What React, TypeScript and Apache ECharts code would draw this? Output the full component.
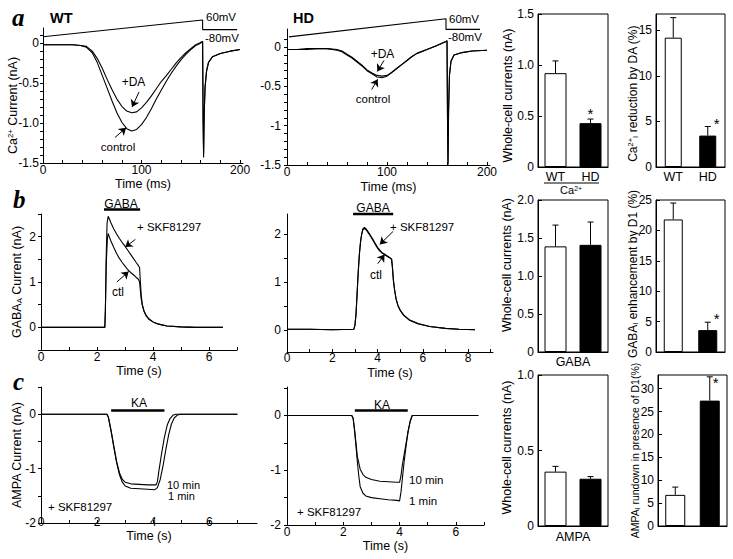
import React, { useEffect, useRef } from 'react';
import * as echarts from 'echarts';

const FONT = "'Liberation Sans', Arial, Helvetica, sans-serif";
const SERIF = "'Liberation Serif', 'Times New Roman', serif";

// ---------- Panel a: Ca2+ currents (time in ms, current in nA) ----------
const caTimeTicks = [0, 20, 40, 60, 80, 100, 120, 140, 160, 180, 200];
const caTimeLabels = [0, 100, 200];
const caCurrentTicks = [-1.5, -1.4, -1.3, -1.2, -1.1, -1, -0.9, -0.8, -0.7, -0.6, -0.5, -0.4, -0.3, -0.2, -0.1, 0, 0.1];
const caCurrentLabelValues = [-1.5, -1, -0.5, 0];
const wtCaCurrentLabels = ['-1.5', '-1.0', '-0.5', '0'];
const hdCaCurrentLabels = ['-1.5', '-1', '-0.5', '0'];

const wtCaControl = [
  [0, -0.02], [10, -0.02], [20, -0.02], [30, -0.02], [38, -0.03], [44, -0.05], [50, -0.12], [55, -0.24], [60, -0.4],
  [65, -0.56], [70, -0.72], [75, -0.87], [80, -0.99], [85, -1.07], [90, -1.1], [95, -1.08], [100, -1.02], [105, -0.93],
  [110, -0.82], [115, -0.7], [120, -0.59], [125, -0.48], [130, -0.38], [135, -0.29], [140, -0.21], [145, -0.14],
  [150, -0.08], [155, -0.03], [160, 0.0], [162, 0.02], [162.5, -1.0], [163, -1.43], [163.6, -0.9], [164.5, -0.55],
  [166, -0.35], [168, -0.24], [172, -0.17], [180, -0.13], [190, -0.1], [200, -0.08],
];
const wtCaDA = [
  [0, -0.02], [10, -0.02], [20, -0.02], [30, -0.02], [38, -0.03], [44, -0.04], [50, -0.1], [55, -0.19], [60, -0.31],
  [65, -0.45], [70, -0.58], [75, -0.7], [80, -0.79], [85, -0.85], [90, -0.87], [95, -0.86], [100, -0.81], [105, -0.74],
  [110, -0.66], [115, -0.57], [120, -0.48], [125, -0.41], [130, -0.33], [135, -0.25], [140, -0.18], [145, -0.12],
  [150, -0.07], [155, -0.02], [160, 0.01], [162, 0.02], [162.5, -0.9], [163, -1.38], [163.6, -0.88], [164.5, -0.55],
  [166, -0.35], [168, -0.24], [172, -0.17], [180, -0.13], [190, -0.1], [200, -0.08],
];
const wtRampProtocol = [[0, 0.08], [162, 0.29], [162, 0.17], [197, 0.17]];

const hdCaControl = [
  [0, -0.03], [10, -0.03], [20, -0.02], [30, -0.02], [40, -0.02], [50, -0.04], [55, -0.06], [60, -0.1], [65, -0.14],
  [70, -0.19], [75, -0.24], [80, -0.3], [85, -0.34], [90, -0.38], [95, -0.39], [100, -0.37], [105, -0.32], [110, -0.27],
  [115, -0.22], [120, -0.17], [125, -0.12], [130, -0.08], [140, -0.03], [150, 0.02], [155, 0.05], [159, 0.07],
  [160, 0.08], [160.5, -0.9], [161, -1.5], [161.6, -0.8], [162.5, -0.35], [164, -0.18], [167, -0.1], [175, -0.07],
  [185, -0.05], [200, -0.04],
];
const hdCaDA = [
  [0, -0.03], [10, -0.03], [20, -0.03], [30, -0.02], [40, -0.02], [50, -0.03], [55, -0.05], [60, -0.09], [65, -0.13],
  [70, -0.18], [75, -0.23], [80, -0.29], [85, -0.33], [90, -0.36], [95, -0.37], [100, -0.36], [105, -0.32], [110, -0.27],
  [115, -0.22], [120, -0.17], [125, -0.12], [130, -0.08], [140, -0.03], [150, 0.02], [155, 0.05], [159, 0.07],
  [160, 0.08], [160.5, -0.9], [161, -1.48], [161.6, -0.8], [162.5, -0.35], [164, -0.18], [167, -0.1], [175, -0.07],
  [185, -0.05], [200, -0.04],
];
const hdRampProtocol = [[2, 0.13], [159, 0.36], [159, 0.225], [193, 0.225]];

// ---------- Panel b: GABA-A currents (time in s, current in nA) ----------
const gabaWtTimeTicks = [0, 1, 2, 3, 4, 5, 6, 7];
const gabaHdTimeTicks = [0, 1, 2, 3, 4, 5, 6, 7, 8, 9];
const gabaWtTimeLabels = [0, 2, 4, 6];
const gabaHdTimeLabels = [0, 2, 4, 6, 8];
const gabaWtCurrentTicks = [-0.5, 0, 0.5, 1, 1.5, 2, 2.5];
const gabaHdCurrentTicks = [0, 0.5, 1, 1.5, 2];
const gabaCurrentLabelValues = [0, 1, 2];
const gabaCurrentLabels = ['0', '1', '2'];

const wtGabaSKF = [
  [0, 0], [1, 0], [2, 0], [2.28, 0], [2.3, 0.4], [2.33, 1.6], [2.36, 2.3], [2.4, 2.45], [2.45, 2.38], [2.5, 2.3],
  [2.6, 2.17], [2.7, 2.06], [2.8, 1.96], [2.9, 1.87], [3.0, 1.79], [3.1, 1.7], [3.2, 1.61], [3.3, 1.52], [3.4, 1.43],
  [3.48, 1.36], [3.52, 1.32], [3.55, 1.0], [3.58, 0.7], [3.62, 0.5], [3.68, 0.36], [3.75, 0.27], [3.85, 0.19],
  [4.0, 0.12], [4.2, 0.07], [4.5, 0.03], [5.0, 0.01], [5.5, 0], [6.5, 0],
];
const wtGabaCtl = [
  [0, 0], [1, 0], [2, 0], [2.28, 0], [2.3, 0.4], [2.33, 1.4], [2.37, 1.95], [2.4, 2.07], [2.45, 1.98], [2.5, 1.9],
  [2.6, 1.76], [2.7, 1.63], [2.8, 1.52], [2.9, 1.43], [3.0, 1.35], [3.1, 1.27], [3.2, 1.21], [3.3, 1.16], [3.4, 1.1],
  [3.48, 1.06], [3.52, 1.0], [3.55, 0.8], [3.58, 0.62], [3.62, 0.48], [3.68, 0.35], [3.75, 0.26], [3.85, 0.18],
  [4.0, 0.12], [4.2, 0.07], [4.5, 0.03], [5.0, 0.01], [5.5, 0], [6.5, 0],
];
const wtGabaStimulus = [[2.25, 2.6], [3.54, 2.6]];

const hdGabaSKF = [
  [0, 0.02], [1, 0.02], [2, 0.01], [2.95, 0.02], [3.0, 0.1], [3.05, 0.35], [3.1, 0.8], [3.15, 1.25], [3.2, 1.6],
  [3.25, 1.85], [3.3, 2.0], [3.35, 2.1], [3.42, 2.13], [3.5, 2.1], [3.6, 2.03], [3.7, 1.96], [3.8, 1.88], [3.9, 1.8],
  [4.0, 1.72], [4.1, 1.66], [4.2, 1.61], [4.3, 1.58], [4.4, 1.55], [4.5, 1.52], [4.62, 1.48], [4.66, 1.3], [4.7, 1.05],
  [4.75, 0.85], [4.82, 0.65], [4.9, 0.52], [5.0, 0.42], [5.15, 0.32], [5.4, 0.22], [5.8, 0.14], [6.3, 0.08],
  [7.0, 0.04], [7.6, 0.02], [8.3, 0.01],
];
const hdGabaCtl = [
  [0, 0.02], [1, 0.02], [2, 0.01], [2.95, 0.02], [3.0, 0.1], [3.05, 0.33], [3.1, 0.78], [3.15, 1.22], [3.2, 1.58],
  [3.25, 1.83], [3.3, 1.99], [3.35, 2.08], [3.42, 2.11], [3.5, 2.08], [3.6, 2.01], [3.7, 1.94], [3.8, 1.86],
  [3.9, 1.78], [4.0, 1.7], [4.1, 1.64], [4.2, 1.6], [4.3, 1.57], [4.4, 1.54], [4.5, 1.51], [4.62, 1.47], [4.66, 1.28],
  [4.7, 1.03], [4.75, 0.84], [4.82, 0.64], [4.9, 0.51], [5.0, 0.41], [5.15, 0.31], [5.4, 0.21], [5.8, 0.13],
  [6.3, 0.08], [7.0, 0.04], [7.6, 0.02], [8.3, 0.01],
];
const hdGabaStimulus = [[2.92, 2.41], [4.69, 2.41]];

// ---------- Panel c: AMPA currents (time in s, current in nA) ----------
const ampaTimeTicks = [0, 1, 2, 3, 4, 5, 6, 7];
const ampaTimeLabels = [0, 2, 4, 6];
const ampaCurrentTicks = [-2, -1.5, -1, -0.5, 0, 0.5];
const ampaCurrentLabelValues = [-2, -1, 0];
const ampaCurrentLabels = ['-2', '-1', '0'];

const wtAmpa10min = [
  [0, 0], [1, 0], [2, 0], [2.35, 0], [2.4, -0.05], [2.5, -0.3], [2.6, -0.6], [2.7, -0.88], [2.8, -1.08], [2.9, -1.2],
  [3.0, -1.25], [3.2, -1.28], [3.5, -1.29], [3.8, -1.3], [4.1, -1.3], [4.15, -1.24], [4.2, -1.05], [4.3, -0.72],
  [4.4, -0.42], [4.5, -0.2], [4.6, -0.08], [4.7, -0.02], [4.8, 0], [6, 0], [7.0, 0],
];
const wtAmpa1min = [
  [0, 0], [1, 0], [2, 0], [2.35, 0], [2.4, -0.05], [2.5, -0.32], [2.6, -0.62], [2.7, -0.9], [2.8, -1.12],
  [2.9, -1.25], [3.0, -1.32], [3.2, -1.36], [3.5, -1.37], [3.8, -1.38], [4.05, -1.39], [4.15, -1.35], [4.25, -1.2],
  [4.35, -0.95], [4.45, -0.65], [4.55, -0.38], [4.65, -0.18], [4.75, -0.07], [4.85, -0.02], [4.95, 0], [6, 0], [7.0, 0],
];
const wtKaStimulus = [[2.5, 0.07], [4.4, 0.07]];

const hdAmpa10min = [
  [0, 0], [1, 0], [2, 0], [2.3, 0], [2.35, -0.05], [2.4, -0.25], [2.45, -0.5], [2.5, -0.75], [2.6, -0.98],
  [2.7, -1.08], [2.8, -1.13], [3.0, -1.17], [3.3, -1.2], [3.6, -1.21], [3.9, -1.22], [4.0, -1.22], [4.05, -1.1],
  [4.1, -0.9], [4.2, -0.6], [4.3, -0.3], [4.38, -0.1], [4.45, 0], [5.5, 0], [6.8, 0],
];
const hdAmpa1min = [
  [0, 0], [1, 0], [2, 0], [2.3, 0], [2.35, -0.05], [2.4, -0.28], [2.45, -0.55], [2.5, -0.85], [2.55, -1.1],
  [2.6, -1.3], [2.7, -1.42], [2.8, -1.47], [3.0, -1.5], [3.3, -1.52], [3.6, -1.54], [3.9, -1.55], [4.0, -1.56],
  [4.05, -1.4], [4.1, -1.15], [4.15, -0.9], [4.22, -0.6], [4.3, -0.3], [4.38, -0.1], [4.45, 0], [5.5, 0], [6.8, 0],
];
const hdKaStimulus = [[2.41, 0.09], [4.29, 0.09]];

// ---------- Bar charts (WT, HD) ----------
const genotypes = ['WT', 'HD'];
const caWholeCell = [0.92, 0.43];
const caWholeCellErr = [1.04, 0.47];
const caWholeCellSig = [0, 1];
const caReductionDA = [14.2, 3.45];
const caReductionDAErr = [16.4, 4.45];
const caReductionDASig = [0, 1];
const gabaWholeCell = [1.39, 1.41];
const gabaWholeCellErr = [1.67, 1.71];
const gabaWholeCellSig = [0, 0];
const gabaEnhanceD1 = [21.8, 3.6];
const gabaEnhanceD1Err = [24.5, 4.9];
const gabaEnhanceD1Sig = [0, 1];
const ampaWholeCell = [0.36, 0.313];
const ampaWholeCellErr = [0.395, 0.327];
const ampaWholeCellSig = [0, 0];
const ampaRundownD1 = [6.8, 27.4];
const ampaRundownD1Err = [8.5, 32.6];
const ampaRundownD1Sig = [0, 1];

const wholeCellTicksCa = [0, 0.5, 1, 1.5];
const wholeCellLabelsCa = ['0', '0.5', '1.0', '1.5'];
const wholeCellTicksGaba = [0, 0.5, 1, 1.5, 2];
const wholeCellLabelsGaba = ['0', '0.5', '1.0', '1.5', '2.0'];
const wholeCellTicksAmpa = [0, 0.5, 1];
const wholeCellLabelsAmpa = ['0', '0.5', '1.0'];
const reductionTicks = [0, 5, 10, 15];
const enhancementTicks = [0, 5, 10, 15, 20, 25];
const rundownTicks = [0, 5, 10, 15, 20, 25, 30];

// ---------- helpers ----------
const richStyles = (size: number) => ({
  n: { fontSize: size, fontFamily: FONT, color: '#000' },
  sup: { fontSize: size * 0.62, fontFamily: FONT, color: '#000', verticalAlign: 'top', lineHeight: size * 0.62 },
  sub: { fontSize: size * 0.62, fontFamily: FONT, color: '#000', verticalAlign: 'bottom', lineHeight: size * 0.62 },
});

const labelFor = (values: number[], texts: string[]) => (v: number) => {
  const i = values.findIndex((x) => Math.abs(x - v) < 1e-9);
  return i >= 0 ? texts[i] : '';
};

function xTraceAxis(gridIndex: number, max: number, ticks: number[], labels: number[], name: string, labelMargin: number, nameGap: number) {
  return {
    type: 'value', gridIndex, min: 0, max,
    axisLine: { show: true, onZero: false, lineStyle: { color: '#000', width: 1 } },
    axisTick: { show: true, inside: true, length: 3, customValues: ticks, lineStyle: { color: '#000', width: 1 } },
    axisLabel: { customValues: labels, color: '#000', fontSize: 12, fontFamily: FONT, margin: labelMargin, formatter: (v: number) => String(v) },
    splitLine: { show: false },
    name, nameLocation: 'middle', nameGap, nameMoveOverlap: false,
    nameTextStyle: { color: '#000', fontSize: 12.5, fontFamily: FONT },
  };
}

function yTraceAxis(gridIndex: number, min: number, max: number, ticks: number[], labelValues: number[], labelTexts: string[], name: string, nameGap: number, namePadding: number[], labelMargin: number) {
  return {
    type: 'value', gridIndex, min, max,
    axisLine: { show: true, onZero: false, lineStyle: { color: '#000', width: 1 } },
    axisTick: { show: true, inside: false, length: 3, customValues: ticks, lineStyle: { color: '#000', width: 1 } },
    axisLabel: { customValues: labelValues, color: '#000', fontSize: 12, fontFamily: FONT, margin: labelMargin, formatter: labelFor(labelValues, labelTexts) },
    splitLine: { show: false },
    name, nameLocation: 'middle', nameGap, nameMoveOverlap: false,
    nameTextStyle: { color: '#000', fontSize: 12.5, fontFamily: FONT, rich: richStyles(12.5), padding: namePadding },
  };
}

function xBarAxis(gridIndex: number, showLabels: boolean, name: string, nameGap: number) {
  return {
    type: 'category', gridIndex, data: genotypes,
    axisLine: { show: true, onZero: false, lineStyle: { color: '#000', width: 1 } },
    axisTick: { show: false },
    axisLabel: { show: showLabels, color: '#000', fontSize: 12.5, fontFamily: FONT, margin: 3 },
    splitLine: { show: false },
    name, nameLocation: 'middle', nameGap, nameMoveOverlap: false,
    nameTextStyle: { color: '#000', fontSize: 12.5, fontFamily: FONT },
  };
}

function yBarAxis(gridIndex: number, max: number, ticks: number[], labels: string[], name: string, nameGap: number, namePadding: number[], nameSize: number) {
  return {
    type: 'value', gridIndex, min: 0, max,
    axisLine: { show: true, onZero: false, lineStyle: { color: '#000', width: 1 } },
    axisTick: { show: true, inside: true, length: 4, customValues: ticks, lineStyle: { color: '#000', width: 1 } },
    axisLabel: { customValues: ticks, color: '#000', fontSize: 12, fontFamily: FONT, margin: 4, formatter: labelFor(ticks, labels) },
    splitLine: { show: false },
    name, nameLocation: 'middle', nameGap, nameMoveOverlap: false,
    nameTextStyle: { color: '#000', fontSize: nameSize, fontFamily: FONT, rich: richStyles(nameSize), padding: namePadding },
  };
}

const traceGrid = (left: number, top: number, width: number, height: number) => ({ left, top, width, height, containLabel: false, show: false });
const barGrid = (left: number, top: number, width: number, height: number) => ({ left, top, width, height, containLabel: false, show: true, borderColor: '#000', borderWidth: 1, backgroundColor: 'transparent' });

const arrowLines = (list: number[][][]) => ({
  silent: true, symbol: ['none', 'arrow'], symbolSize: 7, precision: 4,
  lineStyle: { color: '#000', width: 1, type: 'solid', opacity: 1 }, itemStyle: { color: '#000', opacity: 1 },
  label: { show: false }, emphasis: { disabled: true },
  data: list.map(([a, b]) => [{ coord: a }, { coord: b }]),
});

const trace = (idx: number, data: number[][], extra: any = {}) => ({
  type: 'line', xAxisIndex: idx, yAxisIndex: idx, data, symbol: 'none', showSymbol: false, silent: true,
  lineStyle: { color: '#000', width: 1.1 }, itemStyle: { color: '#000' }, z: 3, ...extra,
});

const bars = (idx: number, values: number[], barWidth: number) => ({
  type: 'bar', xAxisIndex: idx, yAxisIndex: idx, barWidth, silent: true,
  data: values.map((v, i) => ({
    value: v,
    itemStyle: i === 0 ? { color: '#fff', borderColor: '#000', borderWidth: 1 } : { color: '#000', borderColor: '#000', borderWidth: 1 },
  })),
});

const errorBars = (idx: number, values: number[], errs: number[], sig: number[], starDx: number, starDy: number) => ({
  type: 'custom', xAxisIndex: idx, yAxisIndex: idx, silent: true, clip: false, z: 5,
  data: values.map((v, i) => [i, v, errs[i], sig[i]]),
  encode: { x: 0, y: 2 },
  renderItem: (_params: any, api: any) => {
    const p0 = api.coord([api.value(0), api.value(1)]);
    const p1 = api.coord([api.value(0), api.value(2)]);
    const children: any[] = [
      { type: 'line', shape: { x1: p0[0], y1: p0[1], x2: p1[0], y2: p1[1] }, style: { stroke: '#000', lineWidth: 1 } },
      { type: 'line', shape: { x1: p1[0] - 3, y1: p1[1], x2: p1[0] + 3, y2: p1[1] }, style: { stroke: '#000', lineWidth: 1 } },
    ];
    if (api.value(3) === 1) {
      children.push({
        type: 'text', x: p1[0] + starDx, y: p1[1] + starDy,
        style: { text: '*', fill: '#000', fontSize: 15, fontFamily: FONT, align: 'center', verticalAlign: 'middle', textAlign: 'center', textVerticalAlign: 'middle' },
      });
    }
    return { type: 'group', children };
  },
});

const txt = (x: number, y: number, text: string, o: any = {}) => ({
  type: 'text', x, y, silent: true, z: 10,
  style: {
    text, fill: '#000', fontSize: o.size ?? 12, fontFamily: o.family ?? FONT, fontWeight: o.weight ?? 'normal',
    fontStyle: o.fstyle ?? 'normal', align: o.align ?? 'left', verticalAlign: 'middle',
    textAlign: o.align ?? 'left', textVerticalAlign: 'middle', rich: o.rich,
  },
});

export default function App() {
  const ref = useRef<HTMLDivElement>(null);
  useEffect(() => {
    if (!ref.current) return;
    const chart = echarts.init(ref.current, null, { renderer: 'svg' });

    const option: any = {
      animation: false,
      backgroundColor: '#fff',
      textStyle: { fontFamily: FONT, color: '#000' },
      grid: [
        traceGrid(43, 28, 200, 135),      // 0 a WT
        traceGrid(287, 29, 203, 136),     // 1 a HD
        barGrid(538, 14, 70, 153),        // 2 a whole-cell
        barGrid(656, 14, 69, 153),        // 3 a reduction
        traceGrid(41, 214, 196, 136),     // 4 b WT
        traceGrid(287, 214, 206, 138),    // 5 b HD
        barGrid(538, 200, 70, 152),       // 6 b whole-cell
        barGrid(656, 200, 69, 152),       // 7 b enhancement
        traceGrid(41, 387, 216, 136),     // 8 c WT
        traceGrid(287, 387, 197, 138),    // 9 c HD
        barGrid(538, 375, 70, 151),       // 10 c whole-cell
        barGrid(658, 375, 69, 151),       // 11 c rundown
      ],
      xAxis: [
        xTraceAxis(0, 203, caTimeTicks, caTimeLabels, 'Time (ms)', 1, 14.5),
        xTraceAxis(1, 203, caTimeTicks, caTimeLabels, 'Time (ms)', 1, 15),
        xBarAxis(2, true, '', 0),
        xBarAxis(3, true, '', 0),
        xTraceAxis(4, 7, gabaWtTimeTicks, gabaWtTimeLabels, 'Time (s)', 1, 14.5),
        xTraceAxis(5, 9.1, gabaHdTimeTicks, gabaHdTimeLabels, 'Time (s)', 0, 14),
        xBarAxis(6, false, 'GABA', 3),
        xBarAxis(7, false, '', 0),
        xTraceAxis(8, 7.7, ampaTimeTicks, ampaTimeLabels, 'Time (s)', -7, 6.5),
        xTraceAxis(9, 7.0, ampaTimeTicks, ampaTimeLabels, 'Time (s)', 1, 14.5),
        xBarAxis(10, false, 'AMPA', 4),
        xBarAxis(11, false, '', 0),
      ],
      yAxis: [
        yTraceAxis(0, -1.5, 0.19, caCurrentTicks, caCurrentLabelValues, wtCaCurrentLabels, '{n|Ca}{sup|2+}{n| Current (nA)}', 24, [0, 20, 0, 0], 4),
        yTraceAxis(1, -1.5, 0.23, caCurrentTicks, caCurrentLabelValues, hdCaCurrentLabels, '', 0, [0, 0, 0, 0], 6),
        yBarAxis(2, 1.5, wholeCellTicksCa, wholeCellLabelsCa, 'Whole-cell currents (nA)', 24, [0, 10, 0, 0], 12.5),
        yBarAxis(3, 16.8, reductionTicks, ['0', '5', '10', '15'], '{n|Ca}{sup|2+}{sub|I}{n| reduction by DA (%)}', 17.5, [0, 6, 0, 0], 12),
        yTraceAxis(4, -0.5, 2.5, gabaWtCurrentTicks, gabaCurrentLabelValues, gabaCurrentLabels, '{n|GABA}{sub|A}{n| Current (nA)}', 18, [0, 0, 0, 0], 5),
        yTraceAxis(5, -0.45, 2.41, gabaHdCurrentTicks, gabaCurrentLabelValues, gabaCurrentLabels, '', 0, [0, 0, 0, 0], 6),
        yBarAxis(6, 2, wholeCellTicksGaba, wholeCellLabelsGaba, 'Whole-cell currents (nA)', 25, [0, 0, 0, 22], 12.5),
        yBarAxis(7, 25, enhancementTicks, ['0', '5', '10', '15', '20', '25'], '{n|GABA}{sub|I}{n| enhancement by D1 (%)}', 17.5, [0, 0, 0, 4], 12),
        yTraceAxis(8, -2, 0.5, ampaCurrentTicks, ampaCurrentLabelValues, ampaCurrentLabels, '{n|AMPA Current (nA)}', 18, [0, 0, 0, 0], 5),
        yTraceAxis(9, -2, 0.52, ampaCurrentTicks, ampaCurrentLabelValues, ampaCurrentLabels, '', 0, [0, 0, 0, 0], 6),
        yBarAxis(10, 1, wholeCellTicksAmpa, wholeCellLabelsAmpa, 'Whole-cell currents (nA)', 25, [0, 0, 0, 6], 12.5),
        yBarAxis(11, 33, rundownTicks, ['0', '5', '10', '15', '20', '25', '30'], '{n|AMPA}{sub|I}{n| rundown in presence of D1(%)}', 17.5, [0, 0, 0, 0], 10.5),
      ],
      series: [
        // a WT
        trace(0, wtCaControl, {
          markLine: arrowLines([
            [[97.5, -0.61], [90.4, -0.8]],
            [[73.1, -1.18], [84.3, -1.06]],
          ]),
        }),
        trace(0, wtCaDA),
        trace(0, wtRampProtocol, { clip: false }),
        // a HD
        trace(1, hdCaControl, {
          markLine: arrowLines([
            [[97, -0.17], [90.3, -0.31]],
            [[84.7, -0.54], [90.7, -0.41]],
          ]),
        }),
        trace(1, hdCaDA),
        trace(1, hdRampProtocol, { clip: false }),
        // a bars
        bars(2, caWholeCell, 22),
        errorBars(2, caWholeCell, caWholeCellErr, caWholeCellSig, 0, -6),
        bars(3, caReductionDA, 17),
        errorBars(3, caReductionDA, caReductionDAErr, caReductionDASig, 9, -3),
        // b WT
        trace(4, wtGabaSKF, {
          markLine: arrowLines([
            [[3.37, 1.94], [3.01, 1.77]],
            [[2.71, 1.0], [3.13, 1.23]],
          ]),
        }),
        trace(4, wtGabaCtl),
        trace(4, wtGabaStimulus, { clip: false, lineStyle: { color: '#000', width: 2.5 } }),
        // b HD
        trace(5, hdGabaSKF, {
          markLine: arrowLines([
            [[4.69, 2.05], [4.1, 1.78]],
            [[4.01, 1.38], [4.31, 1.57]],
          ]),
        }),
        trace(5, hdGabaCtl),
        trace(5, hdGabaStimulus, { clip: false, lineStyle: { color: '#000', width: 2.5 } }),
        // b bars
        bars(6, gabaWholeCell, 22),
        errorBars(6, gabaWholeCell, gabaWholeCellErr, gabaWholeCellSig, 0, -6),
        bars(7, gabaEnhanceD1, 19),
        errorBars(7, gabaEnhanceD1, gabaEnhanceD1Err, gabaEnhanceD1Sig, 9, -4),
        // c WT
        trace(8, wtAmpa10min),
        trace(8, wtAmpa1min),
        trace(8, wtKaStimulus, { clip: false, lineStyle: { color: '#000', width: 2.5 } }),
        // c HD
        trace(9, hdAmpa10min),
        trace(9, hdAmpa1min),
        trace(9, hdKaStimulus, { clip: false, lineStyle: { color: '#000', width: 2.5 } }),
        // c bars
        bars(10, ampaWholeCell, 22),
        errorBars(10, ampaWholeCell, ampaWholeCellErr, ampaWholeCellSig, 0, -6),
        bars(11, ampaRundownD1, 20),
        errorBars(11, ampaRundownD1, ampaRundownD1Err, ampaRundownD1Sig, 6, 6),
      ],
      graphic: [
        txt(12, 17, 'a', { size: 25, family: SERIF, weight: 'bold', fstyle: 'italic' }),
        txt(13, 199, 'b', { size: 25, family: SERIF, weight: 'bold', fstyle: 'italic' }),
        txt(13, 381, 'c', { size: 25, family: SERIF, weight: 'bold', fstyle: 'italic' }),
        txt(50, 18, 'WT', { size: 14.5, weight: 'bold' }),
        txt(293, 18, 'HD', { size: 14.5, weight: 'bold' }),
        txt(206, 17, '60mV', { size: 11.5 }),
        txt(205, 38, '-80mV', { size: 11.5 }),
        txt(449, 19, '60mV', { size: 11.5 }),
        txt(448, 37, '-80mV', { size: 11.5 }),
        txt(133.5, 82, '+DA', { size: 12, align: 'center' }),
        txt(118, 147, 'control', { size: 11.5, align: 'center' }),
        txt(382.5, 54, '+DA', { size: 12, align: 'center' }),
        txt(373, 99, 'control', { size: 11.5, align: 'center' }),
        { type: 'line', silent: true, shape: { x1: 544, y1: 183, x2: 599, y2: 183 }, style: { stroke: '#000', lineWidth: 1 } },
        txt(571, 190, '{n|Ca}{sup|2+}', { align: 'center', rich: richStyles(11) }),
        txt(121, 204, 'GABA', { size: 12, align: 'center' }),
        txt(137, 227, '+ SKF81297', { size: 11.5 }),
        txt(118, 292, 'ctl', { size: 12, align: 'center' }),
        txt(373, 208, 'GABA', { size: 12, align: 'center' }),
        txt(390, 227, '+ SKF81297', { size: 11.5 }),
        txt(376, 275, 'ctl', { size: 12, align: 'center' }),
        txt(139, 403, 'KA', { size: 12, align: 'center' }),
        txt(167, 484.5, '10 min', { size: 11 }),
        txt(168, 496, '1 min', { size: 11 }),
        txt(48, 507, '+ SKF81297', { size: 11.5 }),
        txt(382, 405, 'KA', { size: 12, align: 'center' }),
        txt(409, 480, '10 min', { size: 11.5 }),
        txt(409, 501, '1 min', { size: 11.5 }),
        txt(297, 512, '+ SKF81297', { size: 11.5 }),
      ],
    };

    chart.setOption(option);
    return () => chart.dispose();
  }, []);

  return (
    <div
      ref={ref}
      style={{ position: 'fixed', left: 0, top: 0, width: 733, height: 559, background: '#fff' }}
    />
  );
}
